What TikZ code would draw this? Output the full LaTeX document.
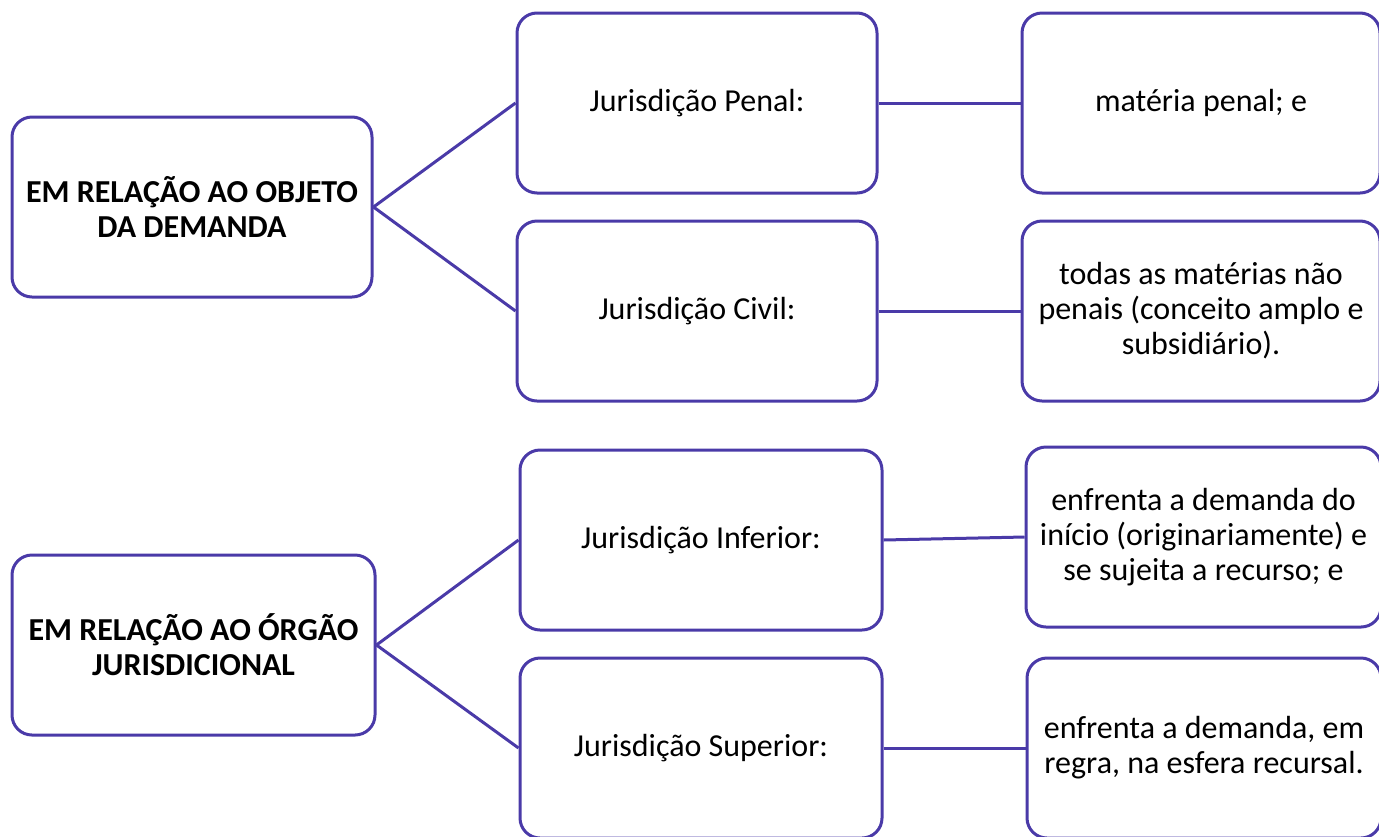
\documentclass[tikz,border=0pt]{standalone}
\usepackage{fontspec}
\setmainfont{Carlito}
\usepackage{tikz}
\definecolor{roxo}{HTML}{4A3AA8}

\begin{document}
\begin{tikzpicture}[x=0.5pt, y=-0.5pt,
    every node/.style={font=\fontsize{16}{17.5}\selectfont},
    caixa/.style={draw=roxo, line width=1.5pt, rounded corners=10pt, align=center,
      minimum height=90pt, inner sep=0pt},
    titulo/.style={caixa, font=\fontsize{16}{17.5}\selectfont\bfseries},
    liga/.style={draw=roxo, line width=1.5pt}]

    \useasboundingbox (0,0) rectangle (1379,836);

    % objeto da demanda
    \node[titulo, minimum width=180pt] (objeto) at (192,207) {EM RELAÇÃO AO OBJETO\\DA DEMANDA};
    \node[caixa, minimum width=180pt] (penal) at (697,103) {Jurisdição Penal:};
    \node[caixa, minimum width=180pt] (civil) at (697,311) {Jurisdição Civil:};
    \node[caixa, minimum width=179pt] (matpenal) at (1201,103) {matéria penal; e};
    \node[caixa, minimum width=179pt] (matcivil) at (1201,311) {todas as matérias não\\penais (conceito amplo e\\subsidiário).};

    % orgao jurisdicional
    \node[titulo, minimum width=181.5pt] (orgao) at (193.5,645) {EM RELAÇÃO AO ÓRGÃO\\JURISDICIONAL};
    \node[caixa, minimum width=181pt] (inferior) at (701,540) {Jurisdição Inferior:};
    \node[caixa, minimum width=181pt] (superior) at (701,748) {Jurisdição Superior:};
    \node[caixa, minimum width=177.5pt] (inicio) at (1203.5,537) {enfrenta a demanda do\\início (originariamente) e\\se sujeita a recurso; e};
    \node[caixa, minimum width=177pt] (recurso) at (1204,748) {enfrenta a demanda, em\\regra, na esfera recursal.};

    \draw[liga] (objeto.east) -- (penal.west);
    \draw[liga] (objeto.east) -- (civil.west);
    \draw[liga] (penal.east) -- (matpenal.west);
    \draw[liga] (civil.east) -- (matcivil.west);

    \draw[liga] (orgao.east) -- (inferior.west);
    \draw[liga] (orgao.east) -- (superior.west);
    \draw[liga] (inferior.east) -- (inicio.west);
    \draw[liga] (superior.east) -- (recurso.west);

\end{tikzpicture}
\end{document}
